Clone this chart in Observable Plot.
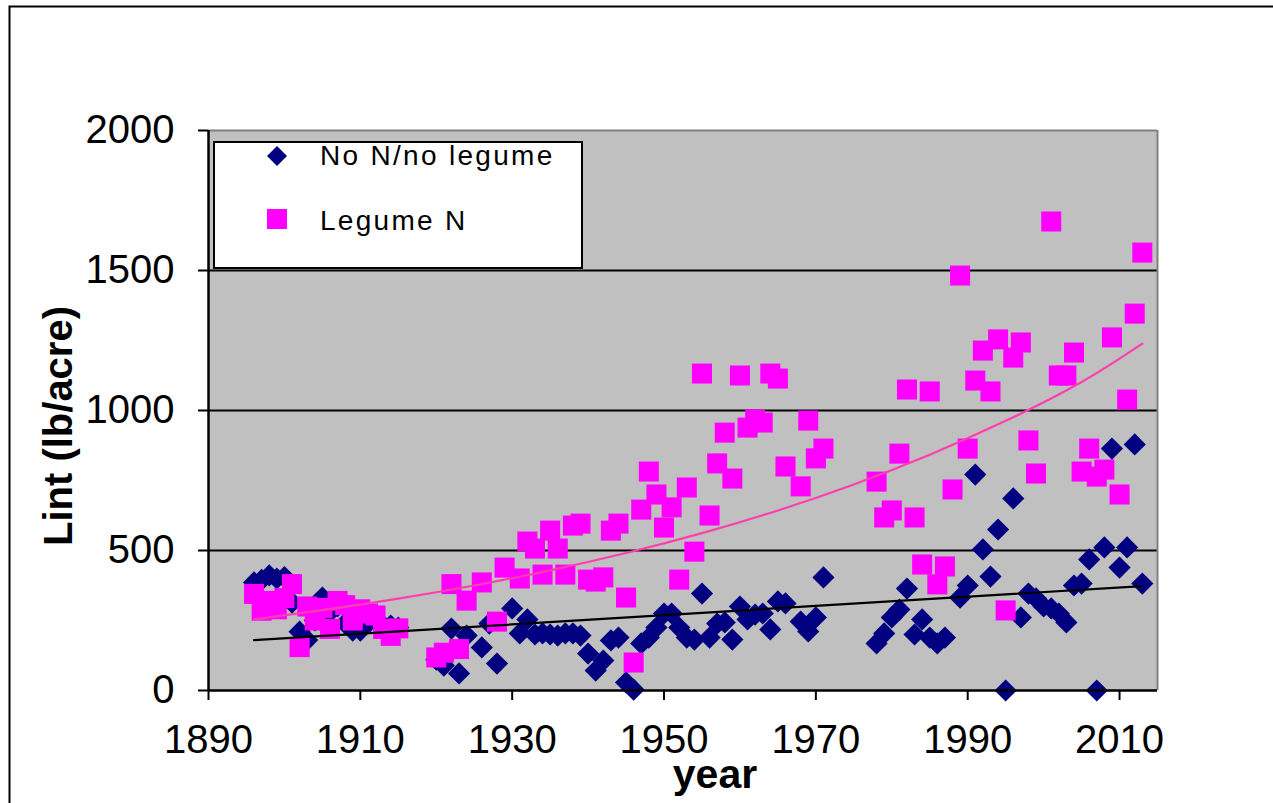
<!DOCTYPE html>
<html><head><meta charset="utf-8">
<script src="https://cdn.jsdelivr.net/npm/d3@7"></script>
<script src="https://cdn.jsdelivr.net/npm/@observablehq/plot@0.6"></script>
<style>
html,body{margin:0;padding:0;background:#fff;}
#chart{position:relative;width:1273px;height:803px;overflow:hidden;}
</style></head><body><div id="chart"></div>
<script>
const xTicks = [1890, 1910, 1930, 1950, 1970, 1990, 2010];
const yTicks = [0, 500, 1000, 1500, 2000];
const gridValues = [500, 1000, 1500];
const seriesNames = ["No N/no legume", "Legume N"];
const seriesColors = ["#000080", "#ff00ff"];
const xTitle = "year";
const yTitle = "Lint (lb/acre)";

const noNYears = [
  1896,1897,1898,1899,1900,1901,1902,1903,1904,1905,1906,1907,1908,1909,1910,1911,1912,1913,1914,1915,
  1920,1921,1922,1923,1924,1926,1927,1928,
  1930,1931,1932,1933,1934,1935,1936,1937,1938,1939,
  1940,1941,1942,1943,1944,1945,1946,1947,1948,1949,
  1950,1951,1952,1953,1954,1955,1956,1957,1958,1959,
  1960,1961,1962,1963,1964,1965,1966,1968,1969,1970,1971,
  1978,1979,1980,1981,1982,1983,1984,1985,1986,1987,1989,
  1990,1991,1992,1993,1994,1995,1996,1997,1998,1999,
  2000,2001,2002,2003,2004,2005,2006,2007,2008,2009,
  2010,2011,2012,2013
];
const noNLint = [
  386,395,411,400,405,314,210,180,250,332,280,300,240,214,214,240,255,232,232,225,
  110,89,221,61,196,154,239,96,
  293,204,254,200,204,200,196,204,204,196,
  132,71,107,179,189,29,3,168,189,225,
  275,275,225,189,182,346,189,239,243,182,
  300,254,271,275,218,318,311,246,211,261,404,
  168,204,261,289,364,200,254,189,168,189,332,
  375,771,504,407,575,0,686,261,346,329,
  300,293,275,243,375,382,468,0,511,864,
  439,511,879,382
];

const legYears = [
  1896,1897,1898,1899,1900,1901,1902,1903,1904,1905,1906,1907,1908,1909,1910,1911,1912,1913,1914,1915,
  1920,1921,1922,1923,1924,1926,1928,1929,
  1931,1932,1933,1934,1935,1936,1937,1938,1939,
  1940,1941,1942,1943,1944,1945,1946,1947,1948,1949,
  1950,1951,1952,1953,1954,1955,1956,1957,1958,1959,
  1960,1961,1962,1963,1964,1965,1966,
  1968,1969,1970,1971,
  1978,1979,1980,1981,1982,1983,1984,1985,1986,1987,1988,1989,
  1990,1991,1992,1993,1994,1995,1996,1997,1998,1999,
  2001,2002,2003,2004,2005,2006,2007,2008,2009,2010,2011,2012,2013
];
const legLint = [
  345,285,320,290,330,380,155,300,250,295,220,320,305,250,290,275,268,220,195,222,
  118,135,380,148,321,386,246,439,
  400,532,507,414,571,507,414,589,596,
  396,389,404,571,596,332,100,646,782,700,
  582,654,396,725,496,1132,625,811,921,757,
  1125,939,968,957,1132,1114,800,
  729,964,829,864,
  746,618,643,846,1075,618,450,1068,379,443,718,1482,
  864,1107,1214,1068,1254,286,1189,1243,893,775,
  1675,1125,1125,1207,782,864,764,789,1261,700,1039,1346,1564
];

// trend lines
const legTrendYears = [1896,1905,1915,1925,1935,1945,1955,1965,1975,1985,1995,2005,2013];
const legTrendLint  = [254,287,328,375,429,491,562,643,736,842,963,1102,1239];
const noNTrendYears = [1896, 2013];
const noNTrendLint  = [180, 373];

const noN = noNYears.map((year, i) => ({year, lint: noNLint[i]}));
const leg = legYears.map((year, i) => ({year, lint: legLint[i]}));
const legTrend = legTrendYears.map((year, i) => ({year, lint: legTrendLint[i]}));
const noNTrend = noNTrendYears.map((year, i) => ({year, lint: noNTrendLint[i]}));

const fontFamily = "Arial, 'Liberation Sans', Helvetica, sans-serif";

const chart = Plot.plot({
  width: 1273,
  height: 803,
  marginLeft: 208,
  marginRight: 116,
  marginTop: 130,
  marginBottom: 113,
  style: {fontFamily, background: "white", color: "black", overflow: "visible"},
  x: {domain: [1890, 2015]},
  y: {domain: [0, 2000]},
  marks: [
    Plot.frame({fill: "#c0c0c0", stroke: null}),
    Plot.ruleY(gridValues, {stroke: "black", strokeWidth: 2}),
    Plot.ruleY([2000], {stroke: "#808080", strokeWidth: 2}),
    Plot.ruleX([2015], {stroke: "#808080", strokeWidth: 2}),
    Plot.dot(noN, {x: "year", y: "lint", symbol: "diamond2", r: 10, fill: seriesColors[0], stroke: null}),
    Plot.dot(leg, {x: "year", y: "lint", symbol: "square", r: 11.3, fill: seriesColors[1], stroke: null}),
    Plot.line(legTrend, {x: "year", y: "lint", stroke: "#ff3fb0", strokeWidth: 2.2, curve: "natural"}),
    Plot.line(noNTrend, {x: "year", y: "lint", stroke: "black", strokeWidth: 2.2}),
    Plot.ruleY([0], {stroke: "black", strokeWidth: 2.5}),
    Plot.ruleX([1890], {stroke: "black", strokeWidth: 2.5}),
    Plot.axisX({ticks: xTicks, tickSize: 10, tickPadding: 24, fontSize: 40, strokeWidth: 2,
                tickFormat: d => String(d), label: null}),
    Plot.axisY({ticks: yTicks, tickSize: 10, tickPadding: 24, fontSize: 40, strokeWidth: 2,
                tickFormat: d => String(d), label: null})
  ]
});
document.getElementById("chart").appendChild(chart);

const svg = d3.select(chart);
// outer chart border
svg.append("rect").attr("x", 9.5).attr("y", 6.5).attr("width", 1300).attr("height", 830)
  .attr("fill", "none").attr("stroke", "black").attr("stroke-width", 2);

// legend
const lg = svg.append("g").attr("text-anchor", "start");
lg.append("rect").attr("x", 214).attr("y", 142).attr("width", 368).attr("height", 126)
  .attr("fill", "white").attr("stroke", "black").attr("stroke-width", 2);
lg.append("path").attr("transform", "translate(277,156)")
  .attr("d", d3.symbol(d3.symbolDiamond2, 255)()).attr("fill", seriesColors[0]);
lg.append("path").attr("transform", "translate(277,219)")
  .attr("d", d3.symbol(d3.symbolSquare, 400)()).attr("fill", seriesColors[1]);
[165, 230].forEach((y, i) => {
  lg.append("text").attr("x", 320).attr("y", y).attr("text-anchor", "start").text(seriesNames[i])
    .attr("font-family", fontFamily).attr("font-size", 28).attr("letter-spacing", 2.3).attr("fill", "black");
});

// axis titles
svg.append("text").attr("transform", "translate(72,426) rotate(-90)").attr("text-anchor", "middle")
  .attr("font-family", fontFamily).attr("font-weight", "bold").attr("font-size", 40).attr("fill", "black").text(yTitle);
svg.append("text").attr("x", 715).attr("y", 788).attr("text-anchor", "middle")
  .attr("font-family", fontFamily).attr("font-weight", "bold").attr("font-size", 41).attr("fill", "black").text(xTitle);
</script>
</body></html>
